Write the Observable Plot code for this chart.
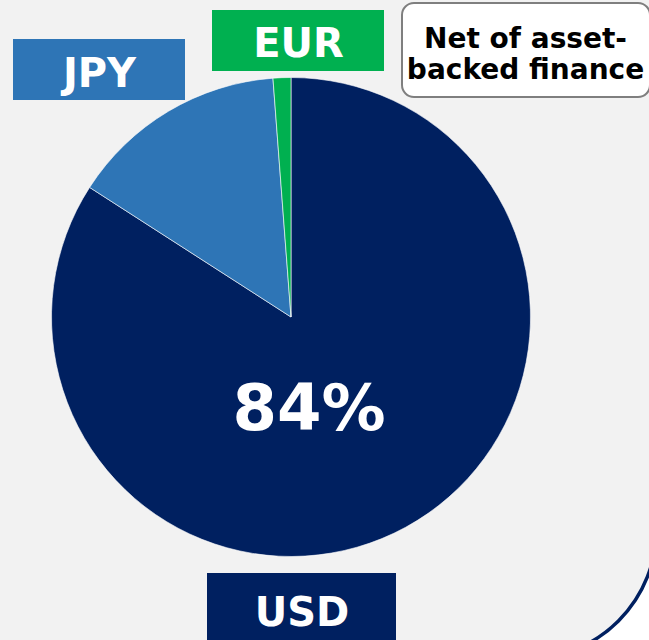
<!DOCTYPE html>
<html><head><meta charset="utf-8">
<script src="https://cdn.jsdelivr.net/npm/d3@7"></script>
<script src="https://cdn.jsdelivr.net/npm/@observablehq/plot@0.6"></script>
<style>html,body{margin:0;padding:0;background:#fff;overflow:hidden;} svg{display:block}</style>
</head><body><div id="chart"></div>
<script>
// ---- data ----
const currencies = ["USD", "JPY", "EUR"];
const shares = [84.1, 14.7, 1.2];
const colors = ["#002060", "#2e75b6", "#00b050"];
const noteText = "Net of asset-\nbacked finance";
const headline = Math.round(shares[0]) + "%";

// ---- layout (pixels) ----
const W = 649, H = 640;
const pieCenter = {x: 291, y: 317}, pieRadius = 239.5;
const boxes = [
  {x1: 207, x2: 396, y1: 573, y2: 650, tx: 301.5, ty: 613},
  {x1: 13, x2: 185, y1: 39, y2: 100, tx: 99, ty: 74},
  {x1: 212, x2: 384, y1: 10, y2: 71, tx: 298, ty: 44}
];
const table = currencies.map((c, i) => ({currency: c, share: shares[i], ...boxes[i]}));

function frameMark(index, scales) {
  const x0 = scales.x(-300), y0 = scales.y(-300);
  const x1 = scales.x(656.5), y1 = scales.y(659);
  return d3.create("svg:rect")
    .attr("x", x0).attr("y", y0).attr("width", x1 - x0).attr("height", y1 - y0)
    .attr("rx", 130).attr("ry", 130)
    .attr("fill", "#f2f2f2").attr("stroke", "#002060").attr("stroke-width", 3.5)
    .node();
}

function pieMark(index, scales) {
  const cx = scales.x(pieCenter.x), cy = scales.y(pieCenter.y);
  const r = scales.x(pieCenter.x + pieRadius) - cx;
  const arcs = d3.pie().sort(null).value(d => d.share)(table);
  const arc = d3.arc().innerRadius(0).outerRadius(r);
  const g = d3.create("svg:g").attr("transform", `translate(${cx},${cy})`);
  g.selectAll("path").data(arcs).join("path")
    .attr("d", arc)
    .attr("fill", d => scales.color(d.data.currency))
    .attr("stroke", "#ffffff").attr("stroke-width", 0.6);
  return g.node();
}

const chart = Plot.plot({
  width: W, height: H, margin: 0,
  x: {domain: [0, W], range: [0, W], axis: null},
  y: {domain: [0, H], range: [0, H], axis: null},
  color: {domain: currencies, range: colors},
  style: {background: "transparent", fontFamily: "DejaVu Sans", overflow: "visible"},
  marks: [
    frameMark,
    pieMark,
    Plot.text([headline], {x: pieCenter.x + 17.5, y: 409.5, text: d => d, fill: "white", fontSize: 64, fontWeight: "bold"}),
    Plot.rect(table, {x1: "x1", x2: "x2", y1: "y1", y2: "y2", fill: "currency"}),
    Plot.text(table, {x: "tx", y: "ty", text: "currency", fill: "white", fontSize: 40, fontWeight: "bold"}),
    Plot.rect([noteText], {x1: 402, x2: 650, y1: 3, y2: 97, rx: 12, fill: "white", stroke: "#7f7f7f", strokeWidth: 2}),
    Plot.text([noteText], {x: 525, y: 53, text: d => d, fill: "black", fontSize: 28, fontWeight: "bold", lineHeight: 1.12})
  ]
});
document.getElementById("chart").append(chart);
</script>
</body></html>
